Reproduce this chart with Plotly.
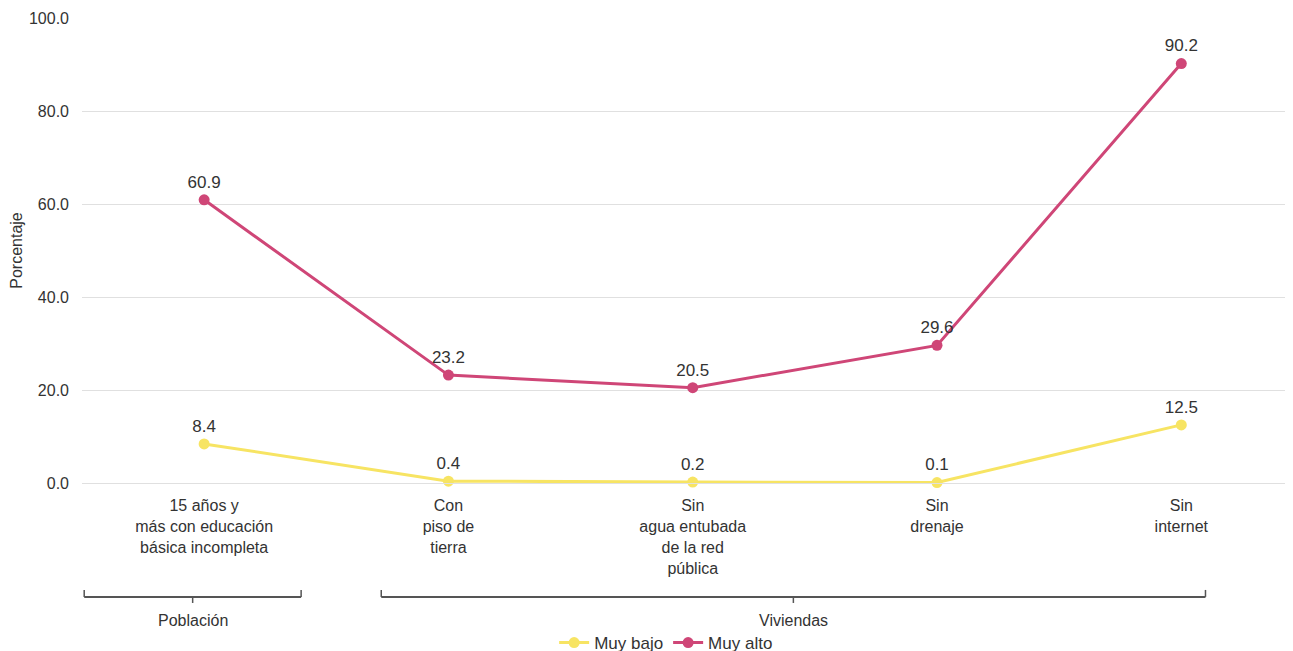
import plotly.graph_objects as go

categories = ["15 años y<br>más con educación<br>básica incompleta",
              "Con<br>piso de<br>tierra",
              "Sin<br>agua entubada<br>de la red<br>pública",
              "Sin<br>drenaje",
              "Sin<br>internet"]
muy_bajo = [8.4, 0.4, 0.2, 0.1, 12.5]
muy_alto = [60.9, 23.2, 20.5, 29.6, 90.2]
y_ticks = [0, 20, 40, 60, 80, 100]
groups = [("Población", -0.491, 0.397), ("Viviendas", 0.725, 4.099)]

xs = list(range(len(categories)))
YELLOW = "#F7E463"
PINK = "#CF4677"
FONT = "Arial, Liberation Sans, sans-serif"
TXT = "#333333"

fig = go.Figure()
fig.add_trace(go.Scatter(x=xs, y=muy_bajo, name="Muy bajo", mode="lines+markers+text",
                         line=dict(color=YELLOW, width=3), marker=dict(color=YELLOW, size=11),
                         text=[f"{v:.1f}" for v in muy_bajo], textposition="top center",
                         textfont=dict(size=17, color=TXT), cliponaxis=False))
fig.add_trace(go.Scatter(x=xs, y=muy_alto, name="Muy alto", mode="lines+markers+text",
                         line=dict(color=PINK, width=3), marker=dict(color=PINK, size=11),
                         text=[f"{v:.1f}" for v in muy_alto], textposition="top center",
                         textfont=dict(size=17, color=TXT), cliponaxis=False))

shapes = []
annotations = []
yb, yup, ydn = -0.245, -0.230, -0.258
for label, x0, x1 in groups:
    xc = (x0 + x1) / 2
    lc = dict(color="#555", width=1.5)
    shapes.append(dict(type="line", xref="x", yref="paper", x0=x0, x1=x1, y0=yb, y1=yb, line=dict(color="#555", width=2)))
    shapes.append(dict(type="line", xref="x", yref="paper", x0=x0, x1=x0, y0=yb, y1=yup, line=lc))
    shapes.append(dict(type="line", xref="x", yref="paper", x0=x1, x1=x1, y0=yb, y1=yup, line=lc))
    shapes.append(dict(type="line", xref="x", yref="paper", x0=xc, x1=xc, y0=yb, y1=ydn, line=lc))
    annotations.append(dict(text=label, xref="x", yref="paper", x=xc, y=-0.295, showarrow=False,
                            font=dict(size=16, color=TXT), yanchor="middle"))

fig.update_layout(
    width=1293, height=651,
    margin=dict(l=74, r=0, t=10, b=176),
    paper_bgcolor="white", plot_bgcolor="white",
    font=dict(family=FONT, size=16, color=TXT),
    showlegend=True,
    legend=dict(orientation="h", x=0.509, xanchor="center", xref="container",
                y=0.0246, yanchor="middle", yref="container",
                font=dict(size=17, color=TXT), itemwidth=30, tracegroupgap=0),
    shapes=shapes, annotations=annotations,
)
fig.update_xaxes(range=[-0.5, 4.49], tickmode="array", tickvals=xs, ticktext=categories,
                 showgrid=False, zeroline=False, showline=True, linecolor="#E0E0E0", linewidth=1,
                 ticks="", ticklabelstandoff=8,
                 tickfont=dict(size=16, color=TXT))
fig.update_yaxes(range=[0, 100], tickmode="array", tickvals=y_ticks, tickformat=".1f",
                 showgrid=True, gridcolor="#E0E0E0", gridwidth=1, zeroline=False,
                 title=dict(text="Porcentaje", font=dict(size=16, color=TXT), standoff=4),
                 tickfont=dict(size=16, color=TXT), ticks="", ticklabelstandoff=12)

fig.write_html("out.html")
